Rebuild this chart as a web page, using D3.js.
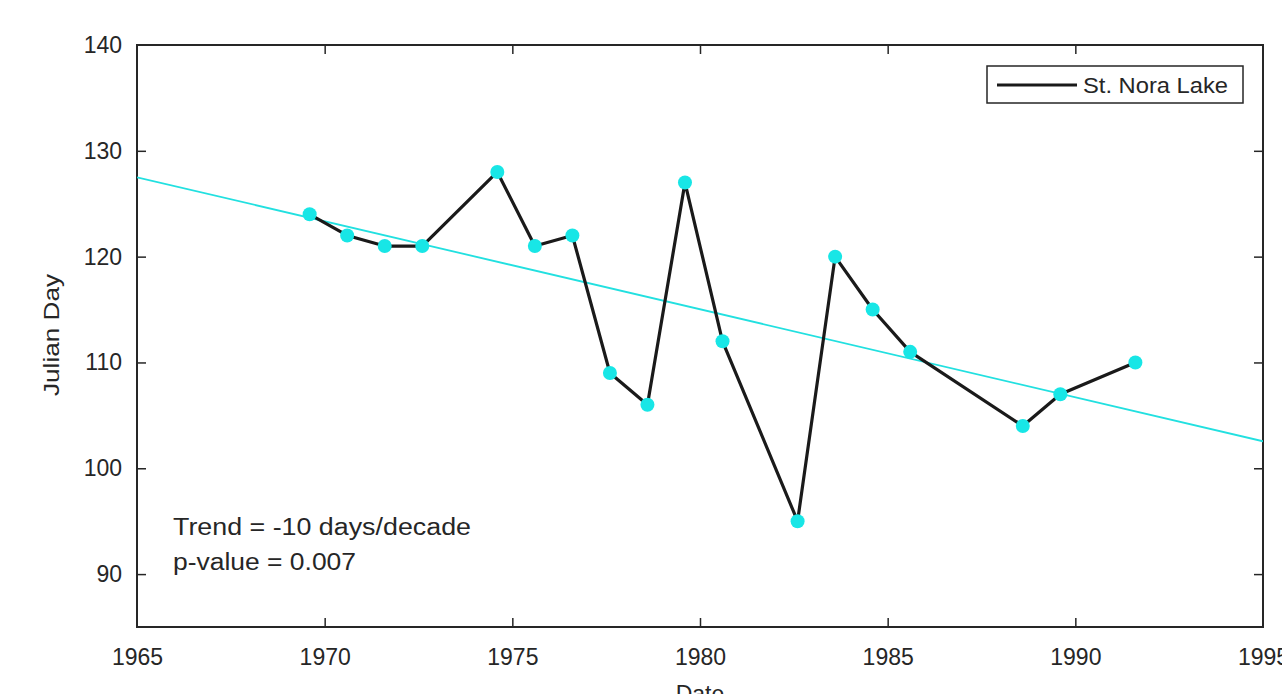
<!DOCTYPE html>
<html>
<head>
<meta charset="utf-8">
<script src="https://cdn.jsdelivr.net/npm/d3@7"></script>
<style>
  html, body { margin: 0; padding: 0; background: #fff; }
  svg { display: block; font-family: "Liberation Sans", Arial, Helvetica, sans-serif; }
</style>
</head>
<body>
<svg id="chart" width="1282" height="694"></svg>
<script>
// ---- data ----
const years = [1969.6, 1970.6, 1971.6, 1972.6, 1974.6, 1975.6, 1976.6, 1977.6, 1978.6,
               1979.6, 1980.6, 1982.6, 1983.6, 1984.6, 1985.6, 1988.6, 1989.6, 1991.6];
const julianDays = [124, 122, 121, 121, 128, 121, 122, 109, 106,
                    127, 112, 95, 120, 115, 111, 104, 107, 110];
const trendYears = [1965, 1995];
const trendValues = [127.5, 102.55];
const xTicks = [1965, 1970, 1975, 1980, 1985, 1990, 1995];
const yTicks = [90, 100, 110, 120, 130, 140];
const seriesName = "St. Nora Lake";
const annotation = ["Trend = -10 days/decade", "p-value = 0.007"];

// ---- layout ----
const svg = d3.select("#chart");
const L = 137, R = 1263, T = 45, B = 627;
const axisColor = "#262626";
const x = d3.scaleLinear().domain([1965, 1995]).range([L, R]);
const y = d3.scaleLinear().domain([85, 140]).range([B, T]);
const tickLen = 9;
const fontSize = 23;

const clipId = "plotclip";
svg.append("defs").append("clipPath").attr("id", clipId)
  .append("rect").attr("x", L).attr("y", T).attr("width", R - L).attr("height", B - T);

// axes (ticks pointing inward, mirrored on top/right)
const gx = svg.append("g").attr("transform", `translate(0,${B})`)
  .call(d3.axisBottom(x).tickValues(xTicks).tickFormat(d3.format("d")).tickSizeInner(-tickLen).tickSizeOuter(0).tickPadding(22));
const gxTop = svg.append("g").attr("transform", `translate(0,${T})`)
  .call(d3.axisTop(x).tickValues(xTicks).tickFormat("").tickSizeInner(-tickLen).tickSizeOuter(0));
const gy = svg.append("g").attr("transform", `translate(${L},0)`)
  .call(d3.axisLeft(y).tickValues(yTicks).tickFormat(d3.format("d")).tickSizeInner(-tickLen).tickSizeOuter(0).tickPadding(15));
const gyRight = svg.append("g").attr("transform", `translate(${R},0)`)
  .call(d3.axisRight(y).tickValues(yTicks).tickFormat("").tickSizeInner(-tickLen).tickSizeOuter(0));

[gx, gxTop, gy, gyRight].forEach(g => {
  g.select(".domain").remove();
  g.selectAll(".tick line").attr("stroke", axisColor).attr("stroke-width", 1.5);
  g.selectAll(".tick text").attr("fill", axisColor).attr("font-size", fontSize)
    .attr("font-family", "'Liberation Sans', Arial, sans-serif");
});
// hide ticks at the corners that coincide with the box
gx.selectAll(".tick").filter(d => d === 1965 || d === 1995).select("line").remove();
gxTop.selectAll(".tick").filter(d => d === 1965 || d === 1995).select("line").remove();
gy.selectAll(".tick").filter(d => d === 140).select("line").remove();
gyRight.selectAll(".tick").filter(d => d === 140).select("line").remove();

// box
svg.append("rect").attr("x", L).attr("y", T).attr("width", R - L).attr("height", B - T)
  .attr("fill", "none").attr("stroke", axisColor).attr("stroke-width", 2);

// trend line
const plot = svg.append("g").attr("clip-path", `url(#${clipId})`);
const trendData = trendYears.map((t, i) => [t, trendValues[i]]);
plot.append("path").datum(trendData)
  .attr("d", d3.line().x(d => x(d[0])).y(d => y(d[1])))
  .attr("fill", "none").attr("stroke", "#22e0e0").attr("stroke-width", 1.8);

// data line
const pts = years.map((t, i) => [t, julianDays[i]]);
plot.append("path").datum(pts)
  .attr("d", d3.line().x(d => x(d[0])).y(d => y(d[1])))
  .attr("fill", "none").attr("stroke", "#1a1a1a").attr("stroke-width", 3.2)
  .attr("stroke-linejoin", "round");

// markers
plot.selectAll("circle.pt").data(pts).enter().append("circle")
  .attr("class", "pt")
  .attr("cx", d => x(d[0])).attr("cy", d => y(d[1])).attr("r", 7)
  .attr("fill", "#18e6e6");

// legend
const lg = svg.append("g");
lg.append("rect").attr("x", 987).attr("y", 66).attr("width", 256).attr("height", 37)
  .attr("fill", "#fff").attr("stroke", axisColor).attr("stroke-width", 1.5);
lg.append("line").attr("x1", 997).attr("x2", 1077).attr("y1", 85).attr("y2", 85)
  .attr("stroke", "#1a1a1a").attr("stroke-width", 3.2);
lg.append("text").attr("x", 1083).attr("y", 93).attr("font-size", 22)
  .attr("fill", axisColor).attr("textLength", 145).attr("lengthAdjust", "spacingAndGlyphs")
  .text(seriesName);

// annotation
svg.append("text").attr("x", 173).attr("y", 535).attr("font-size", 23)
  .attr("fill", axisColor).attr("textLength", 298).attr("lengthAdjust", "spacingAndGlyphs")
  .text(annotation[0]);
svg.append("text").attr("x", 173).attr("y", 570).attr("font-size", 23)
  .attr("fill", axisColor).attr("textLength", 183).attr("lengthAdjust", "spacingAndGlyphs")
  .text(annotation[1]);

// axis labels
svg.append("text").attr("transform", `translate(${59},${335}) rotate(-90)`)
  .attr("text-anchor", "middle").attr("font-size", 22).attr("fill", axisColor)
  .attr("textLength", 122).attr("lengthAdjust", "spacingAndGlyphs")
  .text("Julian Day");
svg.append("text").attr("x", x(1980)).attr("y", 702)
  .attr("text-anchor", "middle").attr("font-size", 23).attr("fill", axisColor)
  .text("Date");
</script>
</body>
</html>
